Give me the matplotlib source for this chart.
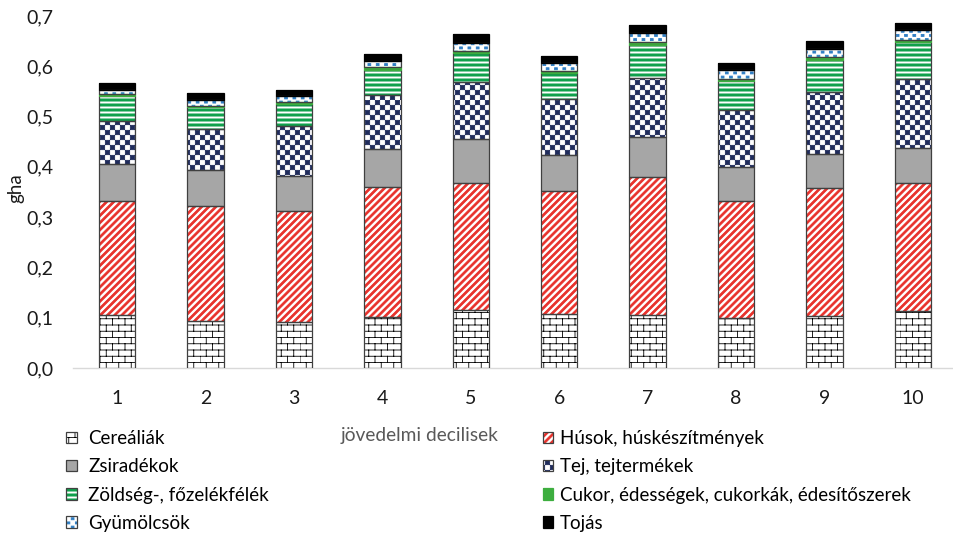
import numpy as np
import matplotlib
matplotlib.use("Agg")
import matplotlib.pyplot as plt
from matplotlib import hatch as mhatch
from matplotlib.path import Path
from matplotlib.legend_handler import HandlerTuple

# ---------------- data ----------------
deciles = ['1', '2', '3', '4', '5', '6', '7', '8', '9', '10']
series_names = ['Cereáliák', 'Húsok, húskészítmények', 'Zsiradékok', 'Tej, tejtermékek',
                'Zöldség-, főzelékfélék', 'Cukor, édességek, cukorkák, édesítőszerek',
                'Gyümölcsök', 'Tojás']
cereal = [0.105, 0.093, 0.092, 0.101, 0.115, 0.107, 0.105, 0.100, 0.103, 0.113]
meat = [0.228, 0.230, 0.221, 0.258, 0.252, 0.244, 0.274, 0.233, 0.254, 0.255]
fats = [0.073, 0.070, 0.069, 0.076, 0.088, 0.072, 0.080, 0.067, 0.068, 0.069]
dairy = [0.085, 0.083, 0.100, 0.108, 0.114, 0.112, 0.118, 0.113, 0.124, 0.138]
veg = [0.050, 0.043, 0.043, 0.050, 0.057, 0.052, 0.065, 0.057, 0.064, 0.074]
sugar = [0.004, 0.003, 0.004, 0.005, 0.004, 0.004, 0.007, 0.004, 0.005, 0.004]
fruit = [0.007, 0.010, 0.012, 0.013, 0.016, 0.016, 0.018, 0.018, 0.017, 0.020]
egg = [0.014, 0.014, 0.012, 0.014, 0.018, 0.013, 0.015, 0.015, 0.015, 0.014]
yticks = [0.0, 0.1, 0.2, 0.3, 0.4, 0.5, 0.6, 0.7]
ytick_labels = ['0,0', '0,1', '0,2', '0,3', '0,4', '0,5', '0,6', '0,7']

RECT_CODES = [Path.MOVETO, Path.LINETO, Path.LINETO, Path.LINETO, Path.CLOSEPOLY]


# ---------------- custom hatch patterns (unit tile) ----------------
class PolyHatch(mhatch.HatchPatternBase):
    """Hatch made of filled quadrilaterals."""
    polys = []

    def set_vertices_and_codes(self, vertices, codes):
        for j, q in enumerate(self.polys):
            vertices[5 * j:5 * j + 5] = list(q) + [q[0]]
            codes[5 * j:5 * j + 5] = RECT_CODES


class HBands(PolyHatch):
    # white horizontal bands, 20 per unit
    def __init__(self, hatch, density):
        self.polys = []
        if '-' in hatch:
            n, h = 20, 0.011
            for k in range(n):
                y = (k + 0.5) / n
                self.polys.append([(0, y - h / 2), (1, y - h / 2), (1, y + h / 2), (0, y + h / 2)])
        self.num_vertices = 5 * len(self.polys)


class DiagBands(PolyHatch):
    # thick "/" stripes, 14 per unit
    def __init__(self, hatch, density):
        self.polys = []
        if '/' in hatch:
            n, w = 14, 0.026
            for k in range(-n, n + 1):
                s = k / n
                self.polys.append([(s, 0), (s + w, 0), (s + w + 1, 1), (s + 1, 1)])
        self.num_vertices = 5 * len(self.polys)


class Checker(PolyHatch):
    def __init__(self, hatch, density):
        self.polys = []
        if 'O' in hatch:
            n = 20
            s = 1.0 / n
            ins = 0.0035
            for a in range(n):
                for b in range(n):
                    if (a + b) % 2 == 0:
                        x0, y0 = a * s + ins, b * s + ins
                        x1, y1 = (a + 1) * s - ins, (b + 1) * s - ins
                        self.polys.append([(x0, y0), (x1, y0), (x1, y1), (x0, y1)])
        self.num_vertices = 5 * len(self.polys)


class Dots(PolyHatch):
    def __init__(self, hatch, density):
        self.polys = []
        if 'o' in hatch:
            n = 24
            s = 1.0 / n
            hw, hh = 0.014, 0.010
            for a in range(n):
                for b in range(n):
                    if (a + b) % 2 == 0:
                        cx = a * s + 0.5 * s + (0.006 if b % 4 == 0 else -0.003)
                        cy = b * s + 0.5 * s
                        self.polys.append([(cx - hw, cy - hh), (cx + hw, cy - hh),
                                           (cx + hw, cy + hh), (cx - hw, cy + hh)])
        self.num_vertices = 5 * len(self.polys)


class Brick(mhatch.HatchPatternBase):
    def __init__(self, hatch, density):
        k = hatch.count('*')
        self.rows = 16 * k
        self.cols = 8
        self.num_vertices = (2 * self.rows + 2 * self.rows * self.cols) if k else 0

    def set_vertices_and_codes(self, vertices, codes):
        r, c = self.rows, self.cols
        i = 0
        for row in range(r):
            y = row / r
            vertices[i] = (0.0, y); codes[i] = Path.MOVETO
            vertices[i + 1] = (1.0, y); codes[i + 1] = Path.LINETO
            i += 2
        for row in range(r):
            y0, y1 = row / r, (row + 1) / r
            off = 0.5 if row % 2 else 0.0
            for col in range(c):
                x = ((col + off) / c) % 1.0
                vertices[i] = (x, y0); codes[i] = Path.MOVETO
                vertices[i + 1] = (x, y1); codes[i + 1] = Path.LINETO
                i += 2


mhatch._hatch_types = [HBands, DiagBands, Brick, Checker, Dots]

# ---------------- figure ----------------
plt.rcParams['font.family'] = ['Lato', 'DejaVu Sans']
plt.rcParams['hatch.linewidth'] = 0.6

W, H = 954, 534
fig = plt.figure(figsize=(W / 100, H / 100), dpi=100)
ax = fig.add_axes([73 / W, 1 - 368 / H, 884 / W, 352 / H])

x = np.arange(1, len(deciles) + 1)
width = 0.41

values = [cereal, meat, fats, dairy, veg, sugar, fruit, egg]
styles = [
    dict(face='white', hatch='*', hc='#000000', edge='#404040'),
    dict(face='white', hatch='/', hc='#E8302A', edge='#404040'),
    dict(face='#A6A6A6', hatch=None, hc='#A6A6A6', edge='#404040'),
    dict(face='white', hatch='O', hc='#1F2B5B', edge='#404040'),
    dict(face='#0FA04B', hatch='-', hc='white', edge='#404040'),
    dict(face='#3DAE3F', hatch=None, hc='#3DAE3F', edge='#3DAE3F'),
    dict(face='white', hatch='o', hc='#2F7EC4', edge='#404040'),
    dict(face='#000000', hatch=None, hc='#000000', edge='#000000'),
]

bottom = np.zeros(len(deciles))
handles = []
for vals, st, name in zip(values, styles, series_names):
    vals = np.array(vals)
    b1 = ax.bar(x, vals, width, bottom=bottom, color=st['face'], hatch=st['hatch'],
                edgecolor=st['hc'], linewidth=0, label=name, zorder=2)
    b2 = ax.bar(x, vals, width, bottom=bottom, fill=False, edgecolor=st['edge'],
                linewidth=0.9, zorder=3)
    handles.append((b1[0], b2[0]))
    bottom = bottom + vals

ax.set_xlim(0.5, len(deciles) + 0.5)
ax.set_ylim(0, 0.7)
ax.set_yticks(yticks)
ax.set_yticklabels(ytick_labels)
ax.set_xticks(x)
ax.set_xticklabels(deciles)
for s in ['left', 'right', 'top']:
    ax.spines[s].set_visible(False)
ax.spines['bottom'].set_color('#D9D9D9')
ax.spines['bottom'].set_linewidth(1.0)
ax.tick_params(axis='both', length=0, labelsize=14, colors='#1a1a1a')
ax.tick_params(axis='y', pad=14)
ax.tick_params(axis='x', pad=16)

fig.text(16 / W, 1 - 188 / H, 'gha', rotation=90, ha='center', va='center',
         fontsize=13.5, color='#1a1a1a')
fig.text(420 / W, 1 - 436 / H, 'jövedelmi decilisek', ha='center', va='center',
         fontsize=13.8, color='#595959')

left_idx = [0, 2, 4, 6]
right_idx = [1, 3, 5, 7]
common = dict(frameon=False, fontsize=13.5, handlelength=0.56, handleheight=0.56,
              labelspacing=0.6, borderpad=0, borderaxespad=0,
              loc='upper left', handler_map={tuple: HandlerTuple(ndivide=1, pad=0)})
leg1 = fig.legend([handles[i] for i in left_idx], [series_names[i] for i in left_idx],
                  bbox_to_anchor=(66.5 / W, 1 - 430 / H), handletextpad=0.6, **common)
leg2 = fig.legend([handles[i] for i in right_idx], [series_names[i] for i in right_idx],
                  bbox_to_anchor=(543 / W, 1 - 430 / H), handletextpad=0.35, **common)

fig.savefig('out.png', dpi=100)
